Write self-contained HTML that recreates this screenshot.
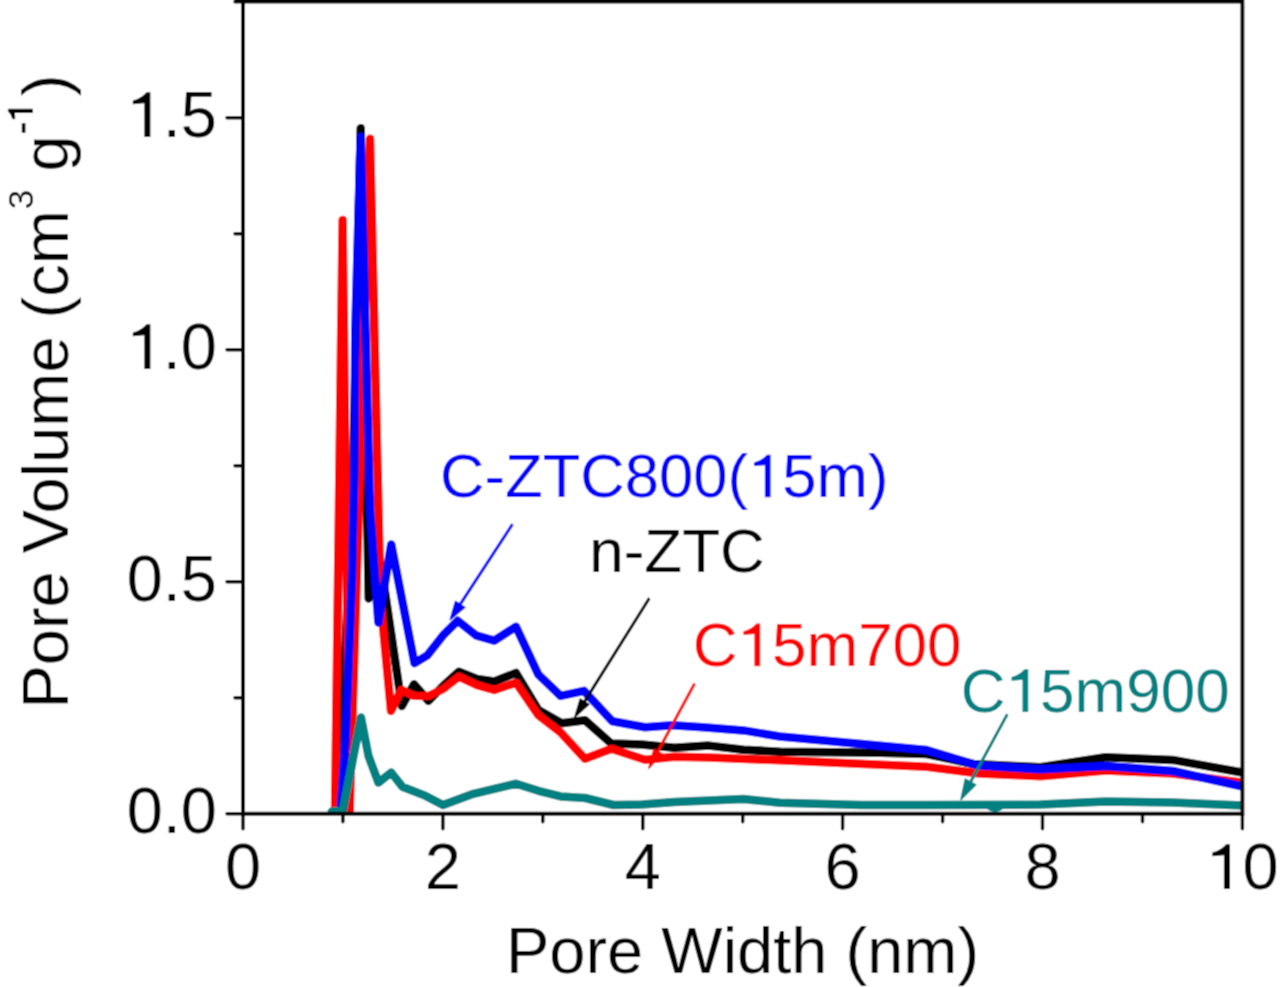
<!DOCTYPE html>
<html><head><meta charset="utf-8"><style>
html,body{margin:0;padding:0;background:#fff;}
body{width:1280px;height:987px;overflow:hidden;}
svg{display:block;}
</style></head><body>
<svg width="1280" height="987" viewBox="0 0 1280 987">
<defs><filter id="bl" x="0" y="0" width="1280" height="987" filterUnits="userSpaceOnUse"><feConvolveMatrix order="3" kernelMatrix="0.04387 0.12171 0.04387 0.12171 0.33767 0.12171 0.04387 0.12171 0.04387" edgeMode="duplicate" preserveAlpha="true"/></filter></defs>
<g filter="url(#bl)"><rect width="1280" height="987" fill="#fff"/>
<defs><clipPath id="c"><rect x="243" y="0" width="999.4000000000001" height="815"/></clipPath></defs><g stroke="#000" stroke-width="3.4" stroke-linecap="round"><line x1="243.0" y1="813.8" x2="243.0" y2="828.8" /><line x1="342.9" y1="813.8" x2="342.9" y2="821.8" /><line x1="442.9" y1="813.8" x2="442.9" y2="828.8" /><line x1="542.8" y1="813.8" x2="542.8" y2="821.8" /><line x1="642.8" y1="813.8" x2="642.8" y2="828.8" /><line x1="742.7" y1="813.8" x2="742.7" y2="821.8" /><line x1="842.6" y1="813.8" x2="842.6" y2="828.8" /><line x1="942.6" y1="813.8" x2="942.6" y2="821.8" /><line x1="1042.5" y1="813.8" x2="1042.5" y2="828.8" /><line x1="1142.5" y1="813.8" x2="1142.5" y2="821.8" /><line x1="1242.4" y1="813.8" x2="1242.4" y2="828.8" /><line x1="243.0" y1="813.8" x2="227.0" y2="813.8" /><line x1="243.0" y1="697.8" x2="235.0" y2="697.8" /><line x1="243.0" y1="581.8" x2="227.0" y2="581.8" /><line x1="243.0" y1="465.8" x2="235.0" y2="465.8" /><line x1="243.0" y1="349.8" x2="227.0" y2="349.8" /><line x1="243.0" y1="233.8" x2="235.0" y2="233.8" /><line x1="243.0" y1="117.8" x2="227.0" y2="117.8" /><line x1="243.0" y1="1.8" x2="235.0" y2="1.8" /></g><g clip-path="url(#c)" fill="none" stroke-width="8.5" stroke-linejoin="round" stroke-linecap="round"><polyline points="333.0,813.8 338.0,813.8 353.0,480.0 360.7,128.2 368.7,598.4 381.0,565.0 401.9,706.0 414.0,684.3 428.5,700.9 443.1,686.0 458.9,671.7 477.1,679.0 494.2,681.5 516.0,672.9 538.4,710.0 561.6,723.3 585.0,720.2 611.4,743.6 641.9,744.6 674.4,747.7 708.9,745.6 743.4,749.7 780.0,751.7 880.0,752.8 927.0,754.0 973.3,764.0 1040.6,767.3 1105.6,757.3 1172.7,759.9 1245.0,773.0" stroke="#000"/><polyline points="333.0,813.8 335.0,813.8 342.6,220.0 349.5,813.8 370.0,138.8 380.5,600.0 391.0,711.0 401.3,689.8 414.0,695.8 428.5,696.0 443.1,689.0 458.9,676.6 477.1,685.1 494.2,690.0 516.0,682.7 538.3,715.2 560.6,732.4 585.0,758.8 611.4,748.7 645.0,759.8 674.4,756.8 708.9,757.5 780.0,760.2 875.8,764.5 926.6,766.8 979.4,773.5 1040.6,776.2 1105.6,770.5 1172.7,773.5 1245.0,783.0" stroke="#ff0000"/><polyline points="333.0,813.8 340.5,813.8 345.5,740.0 351.9,580.0 354.3,470.0 355.3,330.0 360.6,136.8 370.0,510.0 378.4,622.5 391.2,544.4 414.5,663.2 427.3,655.3 443.1,635.3 457.7,620.7 475.9,635.3 494.2,640.7 516.0,626.7 538.3,674.5 560.6,695.9 584.0,690.8 612.4,721.3 645.0,727.3 672.3,725.3 702.8,727.3 743.4,730.4 780.0,736.5 926.6,750.1 977.3,765.3 1040.6,769.2 1105.6,766.0 1172.7,771.0 1245.0,787.0" stroke="#0000ff"/><polyline points="331.8,811.5 342.8,811.0 361.0,717.5 368.5,756.0 378.4,782.6 391.2,772.5 402.3,786.7 425.7,795.9 443.0,805.0 473.4,793.8 516.1,783.7 538.4,790.8 560.6,796.4 585.2,798.0 613.6,805.0 641.9,804.5 674.4,802.0 708.9,800.5 743.4,799.0 780.0,802.8 861.6,804.9 926.6,804.9 1040.6,804.6 1105.6,801.6 1172.7,802.6 1245.0,805.6" stroke="#008080"/></g><g stroke="#000" stroke-width="3.9" fill="none"><line x1="243.0" y1="0" x2="243.0" y2="815.6999999999999"/><line x1="241.1" y1="813.8" x2="1244" y2="813.8"/><line x1="1242.4" y1="0" x2="1242.4" y2="815.6999999999999"/><line x1="243.0" y1="1.75" x2="1244" y2="1.75" stroke-width="3.7"/></g><path d="M984,806 Q995,818 1006,806 Z" fill="#008080"/><line x1="511.8" y1="525.2" x2="459.0" y2="606.1" stroke="#0000ff" stroke-width="3" stroke-linecap="round"/><polygon points="450.3,619.5 455.5,601.4 464.7,607.4" fill="#0000ff" stroke="#0000ff" stroke-width="1.5" stroke-linejoin="round"/><line x1="648.7" y1="599.2" x2="583.4" y2="703.4" stroke="#000" stroke-width="3" stroke-linecap="round"/><polygon points="574.9,717 580.2,699.1 588.7,704.4" fill="#000" stroke="#000" stroke-width="1.5" stroke-linejoin="round"/><line x1="694" y1="684.6" x2="656.9" y2="753.2" stroke="#ff0000" stroke-width="3" stroke-linecap="round"/><polygon points="648.8,768.2 653.9,749.3 661.8,753.6" fill="#ff0000" stroke="#ff0000" stroke-width="1.5" stroke-linejoin="round"/><line x1="1006.7" y1="715.4" x2="969.6" y2="783.7" stroke="#008080" stroke-width="3" stroke-linecap="round"/><polygon points="961,799.5 965.3,779.1 975.8,784.8" fill="#008080" stroke="#008080" stroke-width="1.5" stroke-linejoin="round"/><text x="440.07" y="497.2" font-family="Liberation Sans, sans-serif" font-size="61.6" fill="#0000ff">C-ZTC800(&#8199;5m)</text><path d="M0.365,0 L0.272,0 L0.272,0.52 L0.095,0.505 L0.095,0.565 Q0.225,0.595 0.305,0.69 L0.365,0.69 Z" fill="#0000ff" transform="translate(748.10,497.2) scale(61.6,-61.6)"/><text x="589.1831999999999" y="572.3" font-family="Liberation Sans, sans-serif" font-size="62" fill="#000" text-anchor="start" >n-ZTC</text><text x="692.75" y="666.2" font-family="Liberation Sans, sans-serif" font-size="62" fill="#ff0000">C&#8199;5m700</text><path d="M0.365,0 L0.272,0 L0.272,0.52 L0.095,0.505 L0.095,0.565 Q0.225,0.595 0.305,0.69 L0.365,0.69 Z" fill="#ff0000" transform="translate(737.52,666.2) scale(62,-62)"/><text x="960.85" y="712.1" font-family="Liberation Sans, sans-serif" font-size="62" fill="#008080">C&#8199;5m900</text><path d="M0.365,0 L0.272,0 L0.272,0.52 L0.095,0.505 L0.095,0.565 Q0.225,0.595 0.305,0.69 L0.365,0.69 Z" fill="#008080" transform="translate(1005.62,712.1) scale(62,-62)"/><text x="126.64" y="833.1" font-family="Liberation Sans, sans-serif" font-size="65" fill="#000">0.0</text><text x="126.64" y="601.1" font-family="Liberation Sans, sans-serif" font-size="65" fill="#000">0.5</text><text x="126.64" y="369.1" font-family="Liberation Sans, sans-serif" font-size="65" fill="#000">&#8199;.0</text><path d="M0.365,0 L0.272,0 L0.272,0.52 L0.095,0.505 L0.095,0.565 Q0.225,0.595 0.305,0.69 L0.365,0.69 Z" fill="#000" transform="translate(126.64,369.1) scale(65,-65)"/><text x="126.64" y="137.1" font-family="Liberation Sans, sans-serif" font-size="65" fill="#000">&#8199;.5</text><path d="M0.365,0 L0.272,0 L0.272,0.52 L0.095,0.505 L0.095,0.565 Q0.225,0.595 0.305,0.69 L0.365,0.69 Z" fill="#000" transform="translate(126.64,137.1) scale(65,-65)"/><text x="224.93" y="889.1" font-family="Liberation Sans, sans-serif" font-size="65" fill="#000">0</text><text x="424.81" y="889.1" font-family="Liberation Sans, sans-serif" font-size="65" fill="#000">2</text><text x="624.69" y="889.1" font-family="Liberation Sans, sans-serif" font-size="65" fill="#000">4</text><text x="824.57" y="889.1" font-family="Liberation Sans, sans-serif" font-size="65" fill="#000">6</text><text x="1024.45" y="889.1" font-family="Liberation Sans, sans-serif" font-size="65" fill="#000">8</text><text x="1206.25" y="889.1" font-family="Liberation Sans, sans-serif" font-size="65" fill="#000">&#8199;0</text><path d="M0.365,0 L0.272,0 L0.272,0.52 L0.095,0.505 L0.095,0.565 Q0.225,0.595 0.305,0.69 L0.365,0.69 Z" fill="#000" transform="translate(1206.25,889.1) scale(65,-65)"/><text x="505.97" y="973.2" font-family="Liberation Sans, sans-serif" font-size="65" fill="#000" text-anchor="start" >Pore Width (nm)</text><g transform="translate(68,708.6) rotate(-90)"><text x="0" y="0" font-family="Liberation Sans, sans-serif" font-size="65" fill="#000" text-anchor="start" >Pore Volume (cm</text></g><g transform="translate(32.5,209.2) rotate(-90)"><text x="0" y="0" font-family="Liberation Sans, sans-serif" font-size="35" fill="#000" text-anchor="start" >3</text></g><g transform="translate(68,171.4) rotate(-90)"><text x="0" y="0" font-family="Liberation Sans, sans-serif" font-size="65" fill="#000" text-anchor="start" >g</text></g><g transform="translate(32.5,133.7) rotate(-90)" stroke="#000" stroke-width="0.9"><text x="0.00" y="0" font-family="Liberation Sans, sans-serif" font-size="35" fill="#000">-&#8199;</text><path stroke="#000" stroke-width="0.0257" d="M0.365,0 L0.272,0 L0.272,0.52 L0.095,0.505 L0.095,0.565 Q0.225,0.595 0.305,0.69 L0.365,0.69 Z" fill="#000" transform="translate(11.66,0) scale(35,-35)"/></g><g transform="translate(68,95.9) rotate(-90)"><text x="0" y="0" font-family="Liberation Sans, sans-serif" font-size="65" fill="#000" text-anchor="start" >)</text></g></g>
</svg>
</body></html>
